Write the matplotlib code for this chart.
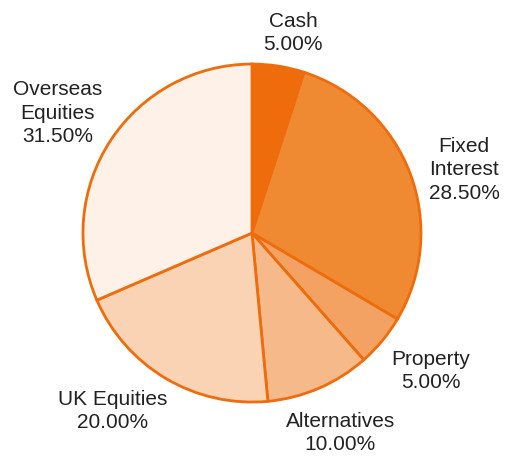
import matplotlib.pyplot as plt
import numpy as np

plt.rcParams["font.family"] = ["Liberation Sans", "DejaVu Sans"]

labels = ["Cash", "Fixed\nInterest", "Property", "Alternatives", "UK Equities", "Overseas\nEquities"]
values = [5.0, 28.5, 5.0, 10.0, 20.0, 31.5]
colors = ["#ee6c0c", "#f08a32", "#f3a263", "#f6b98a", "#f9d3b3", "#fdf1e8"]

# label placement: radial distance and angle nudge (deg) from wedge middle
label_dist = [1.208, 1.309, 1.338, 1.293, 1.336, 1.350]
label_nudge = [-2.6, -4.1, 2.0, 0.4, -7.4, 1.6]

fig = plt.figure(figsize=(5.19, 4.58), dpi=100)
ax = fig.add_axes([0, 0, 1, 1])
wedges, _ = ax.pie(values, colors=colors, startangle=90, counterclock=False,
                   radius=1.0, wedgeprops=dict(edgecolor="#ee6c0c", linewidth=2))

for w, lab, v, d, nd in zip(wedges, labels, values, label_dist, label_nudge):
    ang = np.deg2rad((w.theta1 + w.theta2) / 2 + nd)
    ax.text(d * np.cos(ang), d * np.sin(ang), "%s\n%.2f%%" % (lab, v),
            ha="center", va="center", fontsize=15, color="#222222", linespacing=1.3)

ax.set_xlim(-1.491, 1.580)
ax.set_ylim(-1.331, 1.379)
ax.set_aspect("equal")
ax.axis("off")
fig.savefig("out.png", dpi=100)
